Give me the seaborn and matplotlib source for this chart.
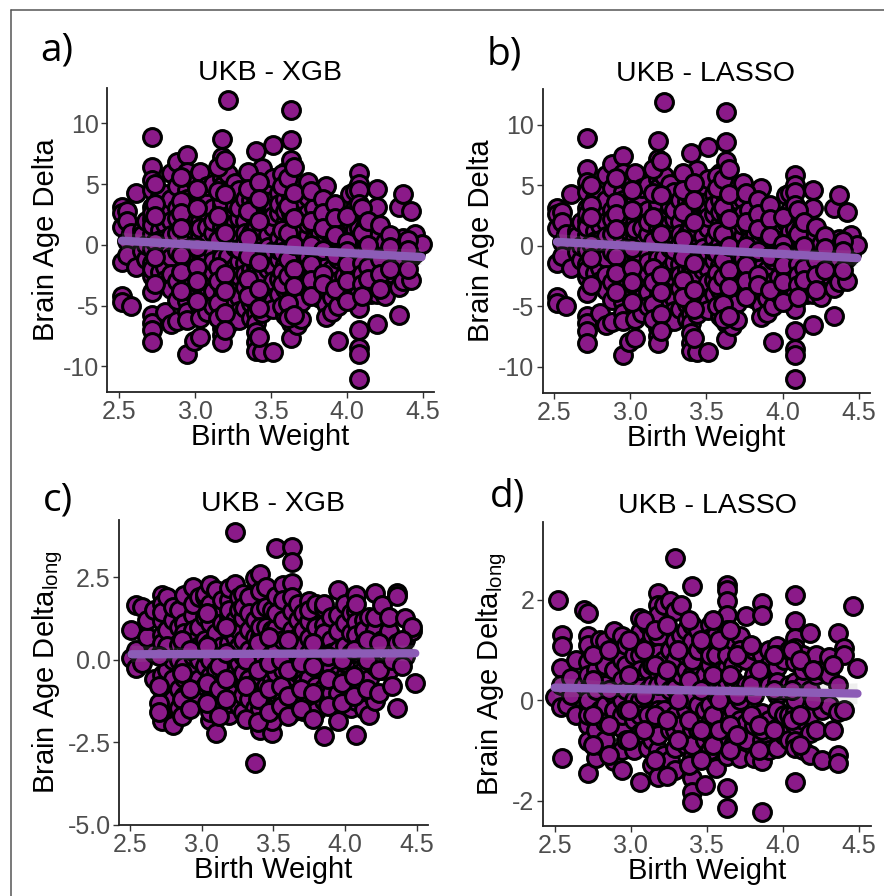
import numpy as np
import pandas as pd
import matplotlib
matplotlib.use("Agg")
import matplotlib.pyplot as plt
from matplotlib.lines import Line2D
import seaborn as sns

sns.set_theme(style="ticks")
plt.rcParams["font.family"] = ["Liberation Sans", "DejaVu Sans"]
plt.rcParams["axes.unicode_minus"] = False

# ---------------- data ----------------
# Points are grouped by birth-weight column: one x value -> list of y values.
# Panels a) and b): Birth Weight vs Brain Age Delta (both panels show the same cloud)
bw_cols_ab = [2.52, 2.55, 2.58, 2.61, 2.65, 2.68, 2.72, 2.77, 2.80, 2.84, 2.88,
              2.95, 2.99, 3.03, 3.08, 3.12, 3.18, 3.22, 3.26, 3.29, 3.33, 3.37,
              3.40, 3.44, 3.48, 3.51, 3.55, 3.59, 3.63, 3.67, 3.70, 3.74, 3.78,
              3.82, 3.86, 3.90, 3.94, 3.98, 4.02, 4.05, 4.08, 4.12, 4.16, 4.20,
              4.25, 4.30, 4.34, 4.37, 4.42, 4.45, 4.49,
              2.74, 2.91, 3.01, 3.15, 3.20, 3.35, 3.42, 3.57, 3.61, 3.65, 3.76,
              3.84, 3.92, 4.00, 4.10, 4.14, 4.22, 4.28, 4.40]
delta_cols_ab = [
    [3.1, 2.6, 1.5, -1.4, -4.2, -4.7],
    [2.8, 2.0, 0.3, -0.8],
    [-5.0, 1.0],
    [4.3, -1.8],
    [1.2, -0.5, 0.8],
    [-1.2, 2.0, 0.0],
    [8.9, 6.4, 5.3, 4.5, 3.1, 2.1, 0.9, -0.3, -1.5, -2.6, -3.9, -5.8, -6.4, -7.0, -8.0, 1.6, 2.6, -2.0],
    [3.5, 1.2, -0.8, -2.2, 0.4, 4.0],
    [4.2, 2.6, 1.7, 0.5, -1.8, -2.9, -5.5, 3.2, -0.6],
    [5.9, 3.8, 2.0, -1.0, -2.4, -6.5, 0.8, -3.6],
    [6.8, 3.0, 1.0, -0.5, -3.0, -4.5, -6.3, 4.8, 2.2],
    [7.4, 6.0, 5.2, 4.5, 3.8, 2.8, 2.2, 1.6, 0.6, -0.3, -1.2, -2.0, -3.0, -3.8, -4.6, -5.5, -6.2, -9.0, 3.3, -1.6, -2.6],
    [5.3, 2.5, 0.0, -2.2, -4.0, -7.9, 1.2, -1.0],
    [6.0, 3.9, 2.0, 0.8, -1.5, -3.3, -5.1, -6.0, -7.6, -0.5, 1.4],
    [3.9, 2.7, 1.5, 0.2, -1.0, -2.8, -4.2, -5.5, 4.8, -2.0],
    [5.0, 3.0, 1.0, -0.6, -2.2, -3.8, -5.0, 2.0, -1.3],
    [8.7, 7.2, 6.6, 6.0, 5.5, 4.8, 4.0, 3.2, 2.7, 2.0, 1.5, 0.8, 0.2, -0.5, -1.4, -2.0, -2.8, -3.5, -4.3, -5.0, -6.2, -6.8, -7.4, -8.0, 3.6, -1.0],
    [11.9, 5.8, 2.4, -0.9, -4.6, -6.5],
    [5.1, 3.3, 1.8, 0.5, -1.8, -3.2, -5.8, 4.2, -0.2],
    [4.5, 2.2, 0.9, -1.3, -2.6, -4.3, -5.4, -6.2, 3.0, -0.3],
    [3.8, 2.0, 0.2, -1.5, -3.5, -5.2, 1.0, -2.4],
    [5.6, 3.7, 2.6, 1.0, -0.6, -2.0, -3.2, -4.8, -6.0, 4.5],
    [7.7, 5.8, 4.6, 3.5, 2.6, 1.8, 1.0, 0.0, -0.8, -1.7, -2.4, -3.2, -4.0, -4.8, -5.6, -6.4, -7.2, -8.0, -8.7, 1.4, -1.2],
    [6.3, 3.0, 1.2, -0.5, -2.6, -4.0, -5.6, -8.8, 2.2, 4.2],
    [3.6, 2.2, 0.8, -1.0, -2.0, -3.6, -4.8, 5.0, -0.2],
    [8.2, 5.5, 3.0, 1.5, -0.5, -1.8, -3.0, -4.6, -5.3, -8.8, 2.4],
    [4.3, 2.6, 0.6, -1.2, -2.8, -4.0, 3.4, -0.4],
    [6.0, 3.8, 1.8, 0.2, -1.6, -3.6, -5.8, 2.8],
    [11.1, 8.6, 7.0, 5.5, 4.6, 3.6, 2.6, 1.8, 1.3, 0.5, -0.7, -1.5, -2.2, -2.9, -3.7, -4.4, -5.3, -6.4, -7.7, 4.0, -1.0],
    [5.0, 3.0, 1.0, -0.8, -2.6, -4.6, -6.6, 2.0],
    [3.8, 2.2, 0.0, -1.8, -3.2, -4.7, -6.1, 1.2],
    [5.2, 3.9, 2.6, 0.8, -1.0, -2.4, -3.6, 1.7],
    [3.0, 1.6, -0.6, -2.2, -3.7, 0.4],
    [2.2, 0.2, -1.4, -3.5, -4.4, 1.0],
    [4.8, 3.4, 2.0, 0.6, -0.7, -1.8, -2.9, -4.0, -4.9, -5.9, 1.2],
    [3.0, 1.6, -0.2, -2.0, -4.3, -5.5],
    [2.6, 1.0, -1.2, -3.0, -5.0, -7.9, 0.4],
    [1.8, 0.4, -1.0, -2.6, -4.0],
    [4.2, 2.0, 0.0, -2.4, -3.4],
    [4.4, 3.0, 1.2, -0.6, -2.0, -3.0, -4.4],
    [5.9, 5.0, 4.5, 3.4, 2.4, 1.4, 0.6, -0.5, -1.2, -1.9, -2.8, -3.9, -4.7, -5.2, -7.0, -8.5, -9.0, -11.0],
    [2.5, 1.5, -0.5, -2.2, -3.6, 0.5],
    [1.0, -1.0, -2.6, -4.0, 1.8],
    [4.6, 3.1, 0.6, -0.6, -2.0, -3.2, -4.0, -6.5],
    [-1.5, -4.2, 0.2, -2.8],
    [-2.4, -0.8, -1.5],
    [3.1, -3.5, -5.8, -1.5, -0.5],
    [4.2, 0.6, -1.2, -3.0],
    [2.8, -2.9, -1.0, 0.0],
    [0.9, -0.7],
    [0.1],
    [5.0, 3.4, 2.4, 0.2, -1.0, -3.2],
    [5.6, 3.6, 2.6, 1.4, -0.8, -2.2, -3.8],
    [4.6, 3.0, -0.2, -1.8, -3.0, -4.6],
    [6.4, 4.4, 2.4, 0.4, -1.8, -3.0, -4.8, -6.0],
    [7.0, 4.2, 1.0, -2.4, -3.8, -5.6, -7.0],
    [6.0, 4.6, 2.8, 0.6, -0.9, -2.8, -4.2],
    [5.2, 3.8, 2.0, -1.4, -3.6, -5.2, -7.6],
    [5.8, 4.8, 1.2, -0.6, -2.2, -3.2, -5.0],
    [5.5, 3.2, 1.0, -1.2, -2.6, -4.8, -6.0],
    [6.4, 4.3, 2.2, 0.0, -2.0, -3.4, -5.8],
    [4.4, 2.0, 0.0, -1.6, -2.9, -4.2],
    [3.8, 2.6, 1.4, -0.4, -2.4, -3.2],
    [3.4, 2.2, 0.8, -0.8, -3.6],
    [2.4, 0.2, -0.5, -1.6, -3.0, -4.6],
    [3.0, 1.0, -1.5, -2.4, -3.2, -4.2],
    [2.0, 0.0, -1.8, -2.8],
    [1.6, -1.2, -2.4, -3.6],
    [0.8, -0.2, -2.0],
    [0.4, -2.0, -0.4],
]

# Panel c): Birth Weight vs Brain Age Delta_long (XGB)
bw_cols_c = [2.51, 2.54, 2.58, 2.62, 2.67, 2.72, 2.76, 2.80, 2.84, 2.88, 2.94,
             2.98, 3.02, 3.06, 3.10, 3.14, 3.19, 3.23, 3.26, 3.29, 3.33, 3.37,
             3.41, 3.45, 3.49, 3.52, 3.57, 3.63, 3.67, 3.71, 3.75, 3.80, 3.85,
             3.90, 3.95, 4.00, 4.04, 4.08, 4.13, 4.17, 4.21, 4.26, 4.31, 4.36,
             4.42, 4.47, 4.49,
             2.70, 2.86, 2.92, 3.04, 3.12, 3.17, 3.31, 3.39, 3.47, 3.55, 3.60,
             3.69, 3.78, 3.88, 3.98, 4.06, 4.15, 4.24, 4.33, 4.40]
delta_cols_c = [
    [0.9, 0.05],
    [1.67, -0.25, 0.3],
    [1.6, -0.1],
    [0.7, 1.2],
    [0.2, 1.5, -0.6],
    [1.97, 1.7, 1.16, 0.75, 0.25, -0.45, -1.26, -1.67, -1.87, 0.5, -0.9, 1.45],
    [-0.86, 0.9, 1.9, -0.3, 0.4],
    [-1.97, 1.2, 0.0, -0.6, 1.6, -1.2],
    [-1.46, 0.45, 1.0, -0.9, 0.0, 1.5],
    [1.97, -0.56, 0.3, 1.1, -0.2, 0.8, -1.1],
    [2.2, 1.36, 0.9, -0.86, 0.55, 0.2, -0.3, 1.7, -1.3, 0.1],
    [1.9, 1.0, -0.6, 0.4, -1.1, 0.0],
    [1.3, 0.6, -0.2, 1.9, -0.8, 0.2, 2.0],
    [1.7, 2.27, -1.16, -1.82, 0.5, 0.0, -0.5, 1.1, -1.6],
    [1.4, 0.8, -0.3, -1.0, 0.3, 2.1, -2.22],
    [1.8, 0.4, -0.7, 1.1, -1.3, 0.0],
    [0.5, -0.56, -1.67, 1.8, 2.17, 1.3, 0.9, -0.2, -1.0, 0.2, 1.5, -1.3],
    [3.86, 2.3, 0.7, -0.4, 1.2],
    [1.9, 0.9, -0.1, -1.4, 0.4, 1.5],
    [1.26, -1.06, 0.6, 2.0, -0.4, 0.1, 1.6, -1.6],
    [0.9, 1.9, -0.6, -1.2, 0.3, 1.4],
    [-1.46, -3.13, 0.2, 1.2, -0.7, 2.47, 0.7],
    [0.7, -1.06, 2.07, 2.58, -2.12, 1.5, 0.0, -0.5, 1.0, -1.5],
    [1.6, 0.4, -0.8, 1.0, -0.2, 2.2],
    [-2.22, -1.87, 0.9, 0.2, 1.5, -0.6],
    [3.38, 1.92, -1.36, 0.95, 0.3, -0.4, 1.4, -1.0],
    [2.27, 0.6, -0.3, 1.2, -1.2, 1.8],
    [3.4, 2.95, 1.46, 0.5, -0.15, -0.86, -1.36, 2.32, 0.9, 1.9, 0.2, -0.5, -1.6],
    [1.7, 0.7, -0.4, 1.2, -1.0, 0.2],
    [-1.56, 0.9, 0.0, 1.4, -0.7, 0.4],
    [1.77, 1.16, 0.66, -0.56, 0.2, -1.2, 1.5, 0.0],
    [-1.56, -0.25, 1.0, 0.4, 1.7, -0.8],
    [1.56, 1.06, 0.55, -0.86, -1.26, -2.32, 0.2, 1.7, -0.3, 0.8],
    [-0.25, 1.3, 0.6, -1.0, 0.2],
    [2.12, 1.36, 0.86, -1.87, -0.45, 0.3, -1.0],
    [1.1, 0.4, -0.5, 1.7, -0.1],
    [-1.46, 0.8, 0.2, 1.4, -0.6],
    [1.97, 1.46, 1.15, 0.75, -0.45, -1.26, -2.27, 0.2, 1.7, -0.9],
    [1.2, 0.5, -0.3, -1.5, 0.9],
    [-1.67, 0.45, 1.3, -0.6, 0.1],
    [2.02, 0.9, -0.2, -1.26, 0.4, 1.3],
    [1.67, 0.6, -0.3],
    [0.86, -0.3, 0.3, 1.3],
    [2.02, 1.92, -1.46, 0.5],
    [1.26, 0.1, 0.6],
    [0.86, 1.0],
    [-0.7],
    [-1.3, -0.8, 0.1, -1.6],
    [-1.2, -0.4, 0.6, -1.7],
    [-1.5, -0.9, 0.3],
    [-1.3, -0.7, 0.4, 1.4],
    [-1.7, -0.9, -0.2],
    [-1.2, -0.6, 0.2, 1.0],
    [-1.8, -0.8, 0.0],
    [-1.9, -1.2, -0.3, 0.5],
    [-1.6, -0.9, -0.1, 0.7],
    [-1.4, -0.8, 0.0],
    [-1.7, -1.1, -0.3, 0.6],
    [-1.5, -0.9, -0.1],
    [-1.8, -1.0, -0.2, 0.5],
    [-1.4, -0.6, 0.1],
    [-1.3, -0.7, 0.0],
    [-1.1, -0.5, 0.3],
    [-0.9, 0.0, 0.6],
    [-1.0, -0.3, 0.5],
    [-0.8, 0.0],
    [-0.2, 0.6],
]

# Panel d): Birth Weight vs Brain Age Delta_long (LASSO)
bw_cols_d = [2.50, 2.52, 2.54, 2.55, 2.58, 2.61, 2.64, 2.69, 2.72, 2.77, 2.80,
             2.83, 2.89, 2.94, 2.97, 3.02, 3.06, 3.11, 3.14, 3.18, 3.22, 3.26,
             3.29, 3.33, 3.36, 3.40, 3.44, 3.49, 3.52, 3.56, 3.60, 3.63, 3.67,
             3.72, 3.76, 3.81, 3.86, 3.91, 3.96, 4.01, 4.04, 4.08, 4.13, 4.18,
             4.22, 4.26, 4.30, 4.36, 4.40, 4.46, 4.49,
             2.75, 2.86, 2.99, 3.09, 3.16, 3.24, 3.31, 3.38, 3.46, 3.54, 3.58,
             3.65, 3.70, 3.79, 3.84, 3.94, 4.06, 4.11, 4.20, 4.33]
delta_cols_d = [
    [0.07],
    [2.0],
    [0.64, -0.13, 0.3],
    [1.3, 1.07, -1.16],
    [-0.1],
    [0.44, 0.1],
    [0.8, -0.3],
    [1.8, 0.3],
    [1.73, 1.27, 1.1, 0.77, 0.5, 0.2, -0.1, -0.5, -0.82, -1.46, -0.3, 0.0],
    [-1.16, 0.6, -0.6, 0.2],
    [0.9, -0.2, 0.4, -0.9, 1.2],
    [1.17, -0.43, 0.3, -0.8, 0.7, -0.1],
    [1.37, 0.6, -1.22, 0.1, -0.5, 1.0, -0.2],
    [1.27, 1.0, -0.56, -1.39, -1.0, 0.4, 0.0, -0.3, 0.8],
    [0.7, -0.2, 1.1, 0.2, -0.8],
    [1.2, 0.4, -0.4, 0.9, -1.0, 0.0],
    [1.63, 1.35, 0.37, 0.0, -0.66, -1.62, 0.9, -0.3, 0.6],
    [-0.96, 0.6, 1.5, -0.3, 0.2, 1.1],
    [1.3, 0.3, -0.8, -1.3, 0.7],
    [2.13, 1.9, 1.55, 1.27, 0.94, 0.57, 0.07, -0.46, -1.0, -1.52, -0.2, 0.3, -0.7, 1.7],
    [1.9, 0.8, -0.2, -1.1, 0.4],
    [1.97, 1.0, 0.2, -0.6, -1.2],
    [2.83, 1.77, 1.17, 0.44, -0.3, -0.96, -1.39, 0.24, 0.8, -0.6],
    [1.9, 1.3, 0.5, -0.5, 0.0],
    [1.4, 0.6, -0.2, -0.9, 0.9],
    [2.27, 1.17, 0.5, -0.57, -1.16, -1.55, -1.82, -2.02, 0.0, 0.8, -0.9, 1.5],
    [-0.1, 1.0, 0.3, -0.6, 1.4],
    [-1.69, 0.5, -0.2, 1.1, -0.8, 0.2],
    [1.5, 1.24, 0.7, -0.1, -0.43, -1.0, 0.3, 0.9, -0.7],
    [-1.36, 0.1, 0.9, -0.5, 1.3],
    [1.57, 0.6, -0.3, 0.2, -0.9],
    [2.3, 2.2, 1.97, 1.7, 1.4, 1.04, 0.67, 0.37, 0.04, -0.3, -0.62, -0.88, -1.12, -1.75, -2.15, 0.9, -0.4],
    [1.2, 0.4, -0.2, -0.9, 0.7],
    [1.27, 0.87, -1.16, 0.2, -0.4, 1.0, 0.0],
    [1.67, -0.46, 0.3, 0.8, -0.8],
    [-1.16, 0.5, 0.1, -0.5, 1.0],
    [1.93, 1.7, 0.9, 0.44, -0.26, -0.79, -1.22, -2.22, -0.6, 0.6],
    [1.0, 0.3, -0.4, -1.0, 0.7],
    [1.07, 0.67, 0.37, -0.56, -0.96, 0.1, -0.2, 0.9],
    [0.8, -0.3, 0.2, -0.7],
    [1.0, 0.3, -0.3, -0.8],
    [2.1, 1.57, 1.24, 1.04, 0.77, 0.37, -0.23, -0.5, -0.82, -0.95, -1.62, 0.0],
    [0.9, 0.3, -0.4, -1.0, 0.6],
    [1.34, 0.7, -0.3, -0.66, -1.09, 0.2],
    [0.9, 0.5, 0.0, -0.6],
    [-1.19, 0.6, -0.2],
    [0.87, 0.5, -0.1],
    [1.34, -0.23, -1.09, -1.26, 0.3],
    [1.04, 0.9, -0.2],
    [1.87],
    [0.64],
    [0.9, -0.3, 0.4, -0.9],
    [1.0, 0.2, -0.5, -1.1],
    [1.2, 0.5, -0.2, -0.8],
    [1.0, 0.1, -0.6, 1.6],
    [0.7, -0.3, -1.2, 1.4],
    [1.5, 0.6, -0.4, -1.5],
    [1.0, 0.0, -0.8],
    [1.6, 0.4, -0.4, -1.3],
    [1.2, 0.2, -0.6, -1.2],
    [1.6, 0.5, -0.3, -0.9],
    [1.2, 0.0, -0.6],
    [1.4, 0.5, -0.5, -1.0],
    [0.9, 0.1, -0.7],
    [1.1, 0.3, -0.3],
    [0.6, -0.5, -1.0],
    [0.9, 0.2, -0.6],
    [1.0, 0.2, -0.4],
    [0.8, -0.3, -0.9],
    [0.6, 0.0],
    [0.7, -0.6],
]

titles = ["UKB - XGB", "UKB - LASSO", "UKB - XGB", "UKB - LASSO"]
tags = ["a)", "b)", "c)", "d)"]
xticks = [2.5, 3.0, 3.5, 4.0, 4.5]
yticks_ab = [-10, -5, 0, 5, 10]
yticks_c = [-5.0, -2.5, 0.0, 2.5]
yticks_d = [-2, 0, 2]


def long_table(cols, vals):
    xs, ys = [], []
    for xv, yl in zip(cols, vals):
        xs.extend([xv] * len(yl))
        ys.extend(yl)
    return pd.DataFrame({"bw": xs, "delta": ys})


# ---------------- styling ----------------
W, H = 884, 896
POINT_FILL = "#8b1a89"
LINE_COL = "#8c5cb6"
BAND_COL = (0.6, 0.6, 0.6, 0.6)

fig = plt.figure(figsize=(W / 100, H / 100), dpi=100)


def rect(l, t, r, b):
    return [l / W, 1 - b / H, (r - l) / W, (b - t) / H]


ax_specs = [
    dict(rect=rect(107, 88, 434, 392), xlim=(2.421, 4.572), ylim=(-12.1, 12.9),
         df=long_table(bw_cols_ab, delta_cols_ab), yticks=yticks_ab,
         ylab="Brain Age Delta", fmt="{:g}"),
    dict(rect=rect(542.7, 89, 869.7, 393), xlim=(2.426, 4.572), ylim=(-12.15, 12.97),
         df=long_table(bw_cols_ab, delta_cols_ab), yticks=yticks_ab,
         ylab="Brain Age Delta", fmt="{:g}"),
    dict(rect=rect(119, 519.7, 428, 824.7), xlim=(2.423, 4.579), ylim=(-5.0, 4.24),
         df=long_table(bw_cols_c, delta_cols_c), yticks=yticks_c,
         ylab="Brain Age Delta$_{\\mathregular{long}}$", fmt="{:.1f}"),
    dict(rect=rect(542.7, 522, 871.3, 825.7), xlim=(2.421, 4.581), ylim=(-2.5, 3.55),
         df=long_table(bw_cols_d, delta_cols_d), yticks=yticks_d,
         ylab="Brain Age Delta$_{\\mathregular{long}}$", fmt="{:g}"),
]

tag_pos = [(40, 60), (487, 64), (43, 511), (490, 507)]
title_pos = [(270, 80), (706, 81), (273, 511), (707, 513)]

for i, spec in enumerate(ax_specs):
    ax = fig.add_axes(spec["rect"])
    sns.regplot(
        data=spec["df"], x="bw", y="delta", ax=ax, ci=95, seed=0, truncate=True,
        scatter_kws=dict(s=165, facecolor=POINT_FILL, edgecolor="black",
                         linewidths=2.2, alpha=1.0, zorder=2),
        line_kws=dict(color=LINE_COL, lw=6.0, zorder=4),
    )
    for coll in ax.collections[1:]:
        coll.set_facecolor(BAND_COL)
        coll.set_edgecolor("none")
        coll.set_zorder(3)
    ax.set_xlim(*spec["xlim"])
    ax.set_ylim(*spec["ylim"])
    ax.set_xticks(xticks)
    ax.set_xticklabels([f"{v:.1f}" for v in xticks])
    ax.set_yticks(spec["yticks"])
    ax.set_yticklabels([spec["fmt"].format(v) for v in spec["yticks"]])
    ax.tick_params(axis="both", labelsize=18, colors="#333333", labelcolor="#4d4d4d",
                   length=4, width=1.0, pad=2)
    for side in ["top", "right"]:
        ax.spines[side].set_visible(False)
    for side in ["left", "bottom"]:
        ax.spines[side].set_color("#222222")
        ax.spines[side].set_linewidth(1.3)
    ax.set_xlabel("Birth Weight", fontsize=21, color="black", labelpad=-1)
    ax.set_ylabel(spec["ylab"], fontsize=21, color="black", labelpad=2)
    ax.set_facecolor("white")

    tx, ty = title_pos[i]
    fig.text(tx / W, 1 - ty / H, titles[i], ha="center", va="baseline",
             fontsize=20.5, color="black")
    gx, gy = tag_pos[i]
    fig.text(gx / W, 1 - gy / H, tags[i], ha="left", va="baseline",
             fontsize=28, color="black", family=["Open Sans", "DejaVu Sans"])

# thin frame around the figure (left and top edges visible)
fig.add_artist(Line2D([11 / W, 11 / W], [0, 1 - 10 / H], transform=fig.transFigure,
                      color="#555555", lw=1.1))
fig.add_artist(Line2D([11 / W, 1], [1 - 10 / H, 1 - 10 / H], transform=fig.transFigure,
                      color="#555555", lw=1.1))

fig.savefig("out.png", dpi=100, facecolor="white")
